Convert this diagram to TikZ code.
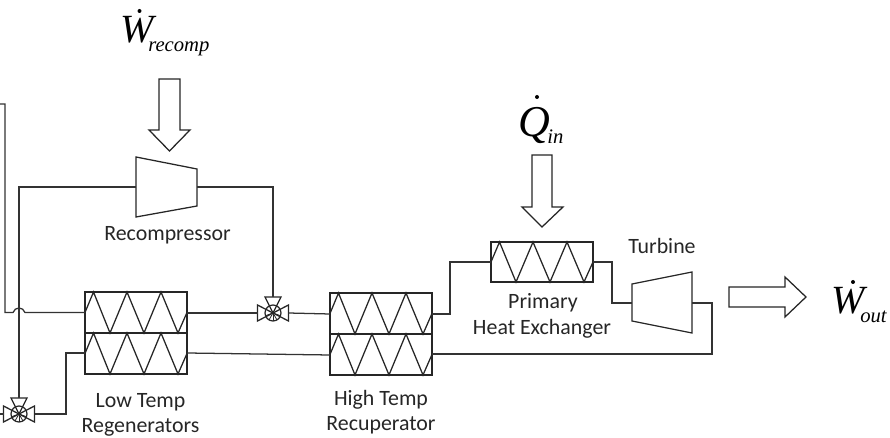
\documentclass[tikz,border=0pt]{standalone}
\usepackage{fontspec}
\setmainfont{Carlito}
\newfontfamily\tnr{Liberation Serif}
\tikzset{
  pipe/.style={draw=black!80,line width=0.95pt,line join=miter},
  unit/.style={draw=black!85,line width=0.95pt,fill=none},
  blockarrow/.style={draw=black!85,line width=0.95pt,fill=white,line join=miter},
  lbl/.style={font=\fontsize{16.4}{20}\selectfont,inner sep=0pt,text=black!85,anchor=base},
  sym/.style={font=\tnr\itshape\fontsize{30}{32}\selectfont,inner sep=0pt,anchor=base west},
  symq/.style={font=\tnr\itshape\fontsize{33}{35}\selectfont,inner sep=0pt,anchor=base west},
  symsub/.style={font=\tnr\itshape\fontsize{15.5}{18}\selectfont,inner sep=0pt,anchor=base west},
  dotmark/.style={circle,fill=black,inner sep=0pt,minimum size=3pt},
}
% heat exchanger cell: \hxcell{x}{ytop}{ybottom}
\newcommand{\hxcell}[3]{%
  \draw[unit] (#1,#2) rectangle (#1+102,#3);
  \draw[unit] (#1,{(#2+#3)/2}) -- (#1+8.5,#2) -- (#1+25,#3) -- (#1+42,#2) -- (#1+59,#3) -- (#1+76,#2) -- (#1+93,#3) -- (#1+102,{(#2+#3)/2});
}
% valve: \valve{name}{cx}{cy}
\newcommand{\valve}[3]{%
  \coordinate (#1) at (#2,#3);
  \coordinate (#1l) at (#2-15.5,#3);
  \coordinate (#1r) at (#2+15.5,#3);
  \coordinate (#1t) at (#2,#3-16);
  \draw[unit] (#2,#3) circle[radius=8];
  \draw[unit] (#2-15.5,#3-8) -- (#2-15.5,#3+8) -- (#2+15.5,#3-8) -- (#2+15.5,#3+8) -- cycle;
  \draw[unit] (#2-8,#3-16) -- (#2+8,#3-16) -- (#2,#3) -- cycle;
  \foreach \a in {20,60,90,120,160} \draw[black!85,line width=0.6pt] (#2,#3) -- ++(\a:8);
}
\begin{document}
\begin{tikzpicture}[x=0.75pt,y=-0.75pt]
\useasboundingbox (0,0) rectangle (890,438);
\hxcell{85}{292}{333}
\hxcell{85}{333}{374}
\hxcell{330}{293}{334}
\hxcell{330}{334}{375}
\hxcell{491}{242}{282}
\draw[unit] (136,157) -- (197,169) -- (197,206) -- (136,217) -- cycle;
\draw[unit] (632,284) -- (692,272) -- (692,333) -- (632,321) -- cycle;
\valve{va}{19}{414}
\valve{vb}{273}{313}
\coordinate (rcl) at (136,187);
\coordinate (rcr) at (197,187);
\coordinate (tbl) at (632,303);
\coordinate (tbr) at (692,303);
\coordinate (topa) at (0,104);
\coordinate (leftedge) at (0,414);
\draw[pipe] (rcl) -- (19,187) -- (vat);
\draw[pipe] (rcr) -- (273,187) -- (vbt);
\draw[pipe] (topa) -- (5,104) -- (5,312.5) -- (13,312.5) .. controls (15,306.5) and (23,306.5) .. (25,312.5) -- (85,312.5);
\draw[pipe] (leftedge) -- (val);
\draw[pipe] (var) -- (66,414) -- (66,353) -- (85,353);
\draw[pipe] (187,313) -- (vbl);
\draw[pipe] (vbr) -- (330,314);
\draw[pipe] (187,353) -- (330,355);
\draw[pipe] (432,314) -- (450,314) -- (450,262) -- (491,262);
\draw[pipe] (593,262) -- (612,262) -- (612,303) -- (tbl);
\draw[pipe] (tbr) -- (712,303) -- (712,354) -- (432,354);
\draw[blockarrow] (159,79) -- (180,79) -- (180,130) -- (190,130) -- (169.5,151) -- (149,130) -- (159,130) -- cycle;
\draw[blockarrow] (532,155) -- (552,155) -- (552,207) -- (563,207) -- (542,227) -- (522,207) -- (532,207) -- cycle;
\draw[blockarrow] (729,287) -- (785,287) -- (785,277) -- (806,297) -- (785,317) -- (785,307) -- (729,307) -- cycle;
\node[lbl] (l1) at (167.5,240.5) {Recompressor};
\node[lbl] (l2) at (140.5,408) {Low Temp};
\node[lbl] (l3) at (140.5,433) {Regenerators};
\node[lbl] (l4) at (381,406) {High Temp};
\node[lbl] (l5) at (381,431) {Recuperator};
\node[lbl] (l6) at (543,309) {Primary};
\node[lbl] (l7) at (542,335) {Heat Exchanger};
\node[lbl] (l8) at (662,254) {Turbine};
\node[sym] (s1) at (120,43) {W};
\node[symsub] (s1b) at (148,52) {recomp};
\node[dotmark] (d1) at (139.5,11) {};
\node[symq] (s2) at (518,137) {Q};
\node[symsub] (s2b) at (547,144) {in};
\node[dotmark] (d2) at (537,97) {};
\node[sym] (s3) at (831,314) {W};
\node[symsub] (s3b) at (860,323) {out};
\node[dotmark] (d3) at (853,282) {};
\end{tikzpicture}
\end{document}
